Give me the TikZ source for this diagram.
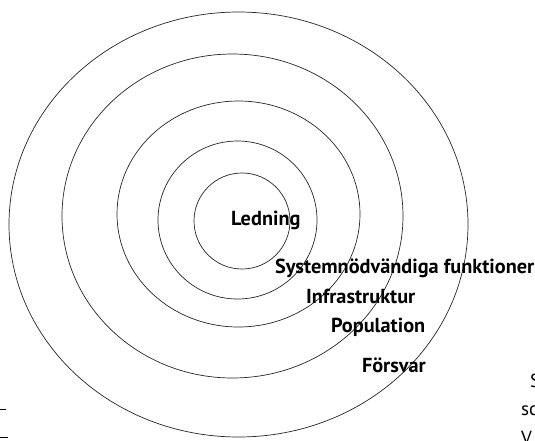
\documentclass[tikz,border=0pt]{standalone}
\usepackage{fontspec}
\setmainfont{PT Sans}

\begin{document}
\begin{tikzpicture}[x=1pt,y=-1pt,every node/.style={outer sep=0pt,inner sep=0pt},
 ring/.style={draw=black!85,line width=0.7pt},
 lab/.style={font=\fontsize{20.3}{20}\selectfont\bfseries,anchor=base west},
 stray/.style={font=\fontsize{19}{19}\selectfont,anchor=base west}]

\useasboundingbox (0,0) rectangle (535,440);

\draw[ring] (238.5,224.5) ellipse [x radius=229.5pt, y radius=212.5pt];
\draw[ring] (232.5,216) ellipse [x radius=170.5pt, y radius=162pt];
\draw[ring] (238.5,214) ellipse [x radius=121.5pt, y radius=113pt];
\draw[ring] (237.5,220) ellipse [x radius=79.5pt, y radius=79pt];
\draw[ring] (242,221) ellipse [x radius=48pt, y radius=48pt];


\node[lab] (led) at (231,225) {Ledning};
\node[lab] (sys) at (275,273) {Systemnödvändiga funktioner};
\node[lab] (inf) at (306,303) {Infrastruktur};
\node[lab] (pop) at (331,332) {Population};
\node[lab] (fors) at (362,372) {Försvar};


\node[stray] (s1) at (530,387) {S};
\node[stray] (s2) at (521,415) {sc};
\node[stray] (s3) at (521,444) {V};
\draw[line width=1pt] (0,409) -- (6,409);
\draw[line width=1pt] (0,437) -- (8,437);

\end{tikzpicture}
\end{document}
